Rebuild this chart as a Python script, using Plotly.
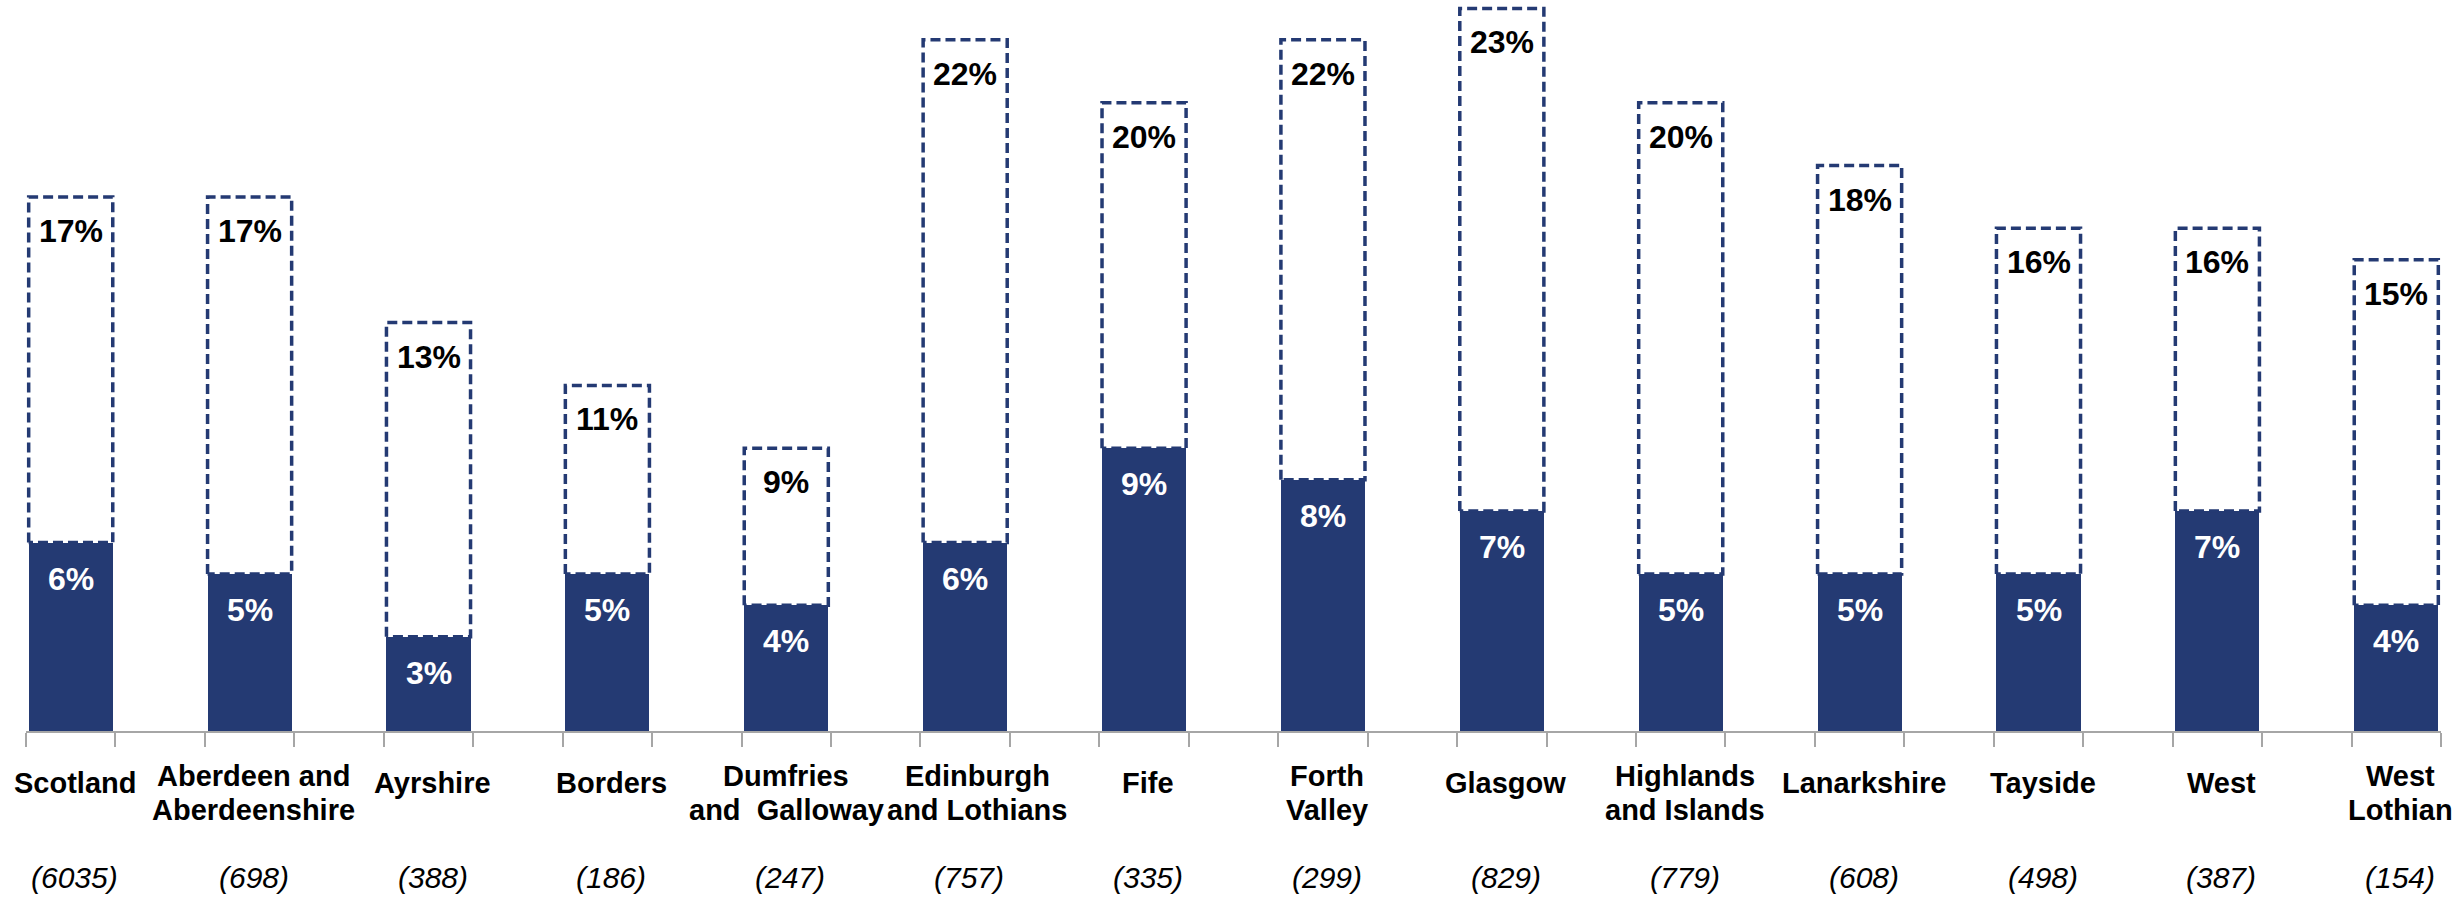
import plotly.graph_objects as go

categories = ["Scotland", "Aberdeen and<br>Aberdeenshire", "Ayrshire", "Borders",
              "Dumfries<br>and  Galloway", "Edinburgh<br>and Lothians", "Fife",
              "Forth<br>Valley", "Glasgow", "Highlands<br>and Islands", "Lanarkshire",
              "Tayside", "West", "West<br>Lothian"]
base_counts = ["6035", "698", "388", "186", "247", "757", "335", "299", "829", "779",
               "608", "498", "387", "154"]
filled_pct = [6, 5, 3, 5, 4, 6, 9, 8, 7, 5, 5, 5, 7, 4]
total_pct = [17, 17, 13, 11, 9, 22, 20, 22, 23, 20, 18, 16, 16, 15]

# small horizontal nudges of the category labels (pixels)
label_nudge = [4, 4, 4, 4, 0, 12, 4, 4, 4, 4, 4, 4, 4, 4]

NAVY = "#243A73"
GREY = "#A6A6A6"
FONT = "Liberation Sans, Arial, sans-serif"
BAR_W = 0.94

xpos = [2 * i for i in range(len(categories))]

fig = go.Figure()
fig.add_trace(go.Bar(x=xpos, y=filled_pct, width=BAR_W, marker=dict(color=NAVY, line=dict(width=0)),
                     hoverinfo="skip", showlegend=False))

# dashed outline boxes from filled value up to total
bx, by = [], []
for x, lo, hi in zip(xpos, filled_pct, total_pct):
    l, r = x - BAR_W / 2, x + BAR_W / 2
    bx += [l, l, r, r, l, None]
    by += [lo, hi, hi, lo, lo, None]
fig.add_trace(go.Scatter(x=bx, y=by, mode="lines", line=dict(color=NAVY, width=3.5, dash="10px,5px"),
                         hoverinfo="skip", showlegend=False, cliponaxis=False))

annotations = []
for x, f, t, cat, n, nud in zip(xpos, filled_pct, total_pct, categories, base_counts, label_nudge):
    annotations.append(dict(x=x, y=f, xref="x", yref="y", text=f"<b>{f}%</b>", showarrow=False,
                            yanchor="middle", yshift=-36, font=dict(family=FONT, size=32, color="white")))
    annotations.append(dict(x=x, y=t, xref="x", yref="y", text=f"<b>{t}%</b>", showarrow=False,
                            yanchor="middle", yshift=-34, font=dict(family=FONT, size=32, color="black")))
    lines = cat.split("<br>")
    shifts = [-52] if len(lines) == 1 else [-45, -79]
    for line, s in zip(lines, shifts):
        annotations.append(dict(x=x, y=0, xref="x", yref="paper", text=f"<b>{line}</b>", showarrow=False,
                                yanchor="middle", yshift=s, xshift=nud,
                                font=dict(family=FONT, size=29, color="black")))
    annotations.append(dict(x=x, y=0, xref="x", yref="paper", text=f"<i>({n})</i>", showarrow=False,
                            yanchor="middle", yshift=-146, xshift=4,
                            font=dict(family=FONT, size=30, color="black")))

tick_vals = [i - 0.5 for i in range(2 * len(categories))]

fig.update_layout(
    width=2463, height=897,
    margin=dict(l=26, r=22, t=4, b=166),
    plot_bgcolor="white", paper_bgcolor="white",
    bargap=0,
    annotations=annotations,
    xaxis=dict(range=[-0.5, xpos[-1] + 0.5], showline=True, linecolor=GREY, linewidth=2,
               ticks="outside", tickvals=tick_vals, ticklen=14, tickwidth=2, tickcolor=GREY,
               showticklabels=False, showgrid=False, zeroline=False, fixedrange=True),
    yaxis=dict(range=[0, 727 / 31.416], visible=False, showgrid=False, zeroline=False),
)

fig.write_html("out.html", config={"displayModeBar": False},
               post_script="document.body.style.margin='0';document.body.style.overflow='hidden';")
